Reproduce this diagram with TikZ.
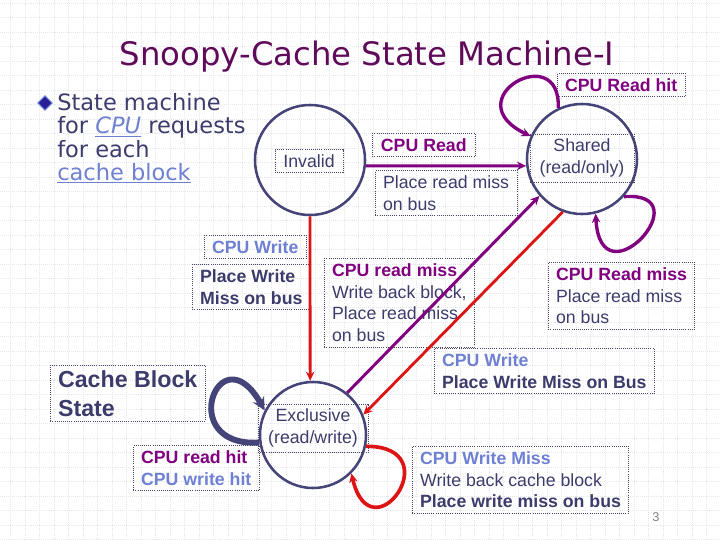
\documentclass[tikz,border=0pt]{standalone}
\usepackage{fontspec}
\setmainfont{Liberation Sans}
\newfontfamily\handfont{DejaVu Sans}
\usepackage{xcolor}
\usepackage{tikz}
\usetikzlibrary{arrows.meta,shapes.geometric}

\definecolor{titlepurple}{RGB}{96,10,90}
\definecolor{darktext}{RGB}{60,60,108}
\definecolor{circnavy}{RGB}{68,68,120}
\definecolor{cpurple}{RGB}{128,0,128}
\definecolor{cred}{RGB}{220,20,20}
\definecolor{lightblue}{RGB}{110,128,210}
\definecolor{boxgray}{RGB}{70,70,100}
\definecolor{gridc}{RGB}{230,230,238}

\newcommand\lblsize{\fontsize{12.6}{15.6}\selectfont}

\tikzset{
  state/.style={circle, draw=circnavy, line width=1.8pt, minimum size=2.75cm, inner sep=0pt},
  lbl/.style={draw=boxgray, densely dotted, line width=0.5pt, text=darktext,
    font=\lblsize, align=left, inner xsep=5.5pt, inner ysep=3.5pt},
  purpleline/.style={draw=cpurple, line width=2.1pt},
  redline/.style={draw=cred, line width=2pt},
  purpleloop/.style={draw=cpurple, line width=2.4pt},
  redloop/.style={draw=cred, line width=2.6pt},
  navyloop/.style={draw=circnavy, line width=4.2pt},
  gridline/.style={draw=gridc, densely dotted, line width=0.4pt},
}

\begin{document}
\begin{tikzpicture}[x=0.025cm, y=-0.025cm, >={Stealth[length=6.5pt,width=6pt]}]
    \useasboundingbox (0,0) rectangle (720,540);
    % background grid
    \foreach \g in {0,...,49} \draw[gridline] (10.5+14.5*\g,0) -- (10.5+14.5*\g,540);
    \foreach \g in {0,...,37} \draw[gridline] (0,3+14.5*\g) -- (720,3+14.5*\g);

    % title and bullet
    \node[text=titlepurple, font=\handfont\fontsize{23}{28}\selectfont] (ttl) at (367,57) {Snoopy-Cache State Machine-I};
    \node[diamond, fill={rgb,255:red,40;green,30;blue,150}, draw=lightblue, line width=0.7pt,
      minimum size=10.5pt, inner sep=0pt] (blt) at (45,103) {};
    \node[anchor=north west, align=left, text=darktext, inner sep=0pt,
      font=\handfont\fontsize{16}{16.6}\selectfont] (intro) at (57,93)
      {State machine\\for \textcolor{lightblue}{\underline{\textit{CPU}}} requests\\for each\\\textcolor{lightblue}{\underline{cache block}}};

    % states
    \node[state] (inv) at (310,160) {};
    \node[state] (sh) at (582,159) {};
    \node[state, minimum size=2.65cm] (exc) at (313,435) {};
    \node[lbl, minimum width=1.7cm] (invlbl) at (309,161) {Invalid};
    \node[lbl, align=center, minimum width=2.6cm] (shlbl) at (582,158) {Shared\\(read/only)};
    \node[lbl, align=center, minimum width=2.75cm] (exclbl) at (313,428) {Exclusive\\(read/write)};

    % transition labels
    \node[lbl, anchor=north west] (rhlbl) at (557,73) {\textcolor{cpurple}{\bfseries CPU Read hit}};
    \node[lbl, anchor=north west, minimum width=2.57cm] (rdlbl) at (372,133) {\textcolor{cpurple}{\bfseries CPU Read}};
    \node[lbl, anchor=north west] (rdact) at (375,170) {Place read miss\\on bus};
    \node[lbl, anchor=north west] (wrlbl) at (204,235) {\textcolor{lightblue}{\bfseries CPU Write}};
    \node[lbl, anchor=north west, font=\lblsize\bfseries] (wract) at (192,264) {Place Write\\Miss on bus};
    \node[lbl, anchor=north west] (rmlbl) at (324,258) {\textcolor{cpurple}{\bfseries CPU read miss}\\Write back block,\\Place read miss\\on bus};
    \node[lbl, anchor=north west] (shrm) at (548,262) {\textcolor{cpurple}{\bfseries CPU Read miss}\\Place read miss\\on bus};
    \node[lbl, anchor=north west] (shwr) at (434,348) {\textcolor{lightblue}{\bfseries CPU Write}\\\textbf{Place Write Miss on Bus}};
    \node[lbl, anchor=north west, font=\fontsize{16.5}{20.6}\selectfont\bfseries] (cbs) at (50,365) {Cache Block\\State};
    \node[lbl, anchor=north west] (hitlbl) at (133,445) {\textcolor{cpurple}{\bfseries CPU read hit}\\\textcolor{lightblue}{\bfseries CPU write hit}};
    \node[lbl, anchor=north west] (wmlbl) at (412,446) {\textcolor{lightblue}{\bfseries CPU Write Miss}\\Write back cache block\\\textbf{Place write miss on bus}};
    \node[text=gray, font=\fontsize{9}{10}\selectfont] (pg) at (656,517) {3};

    % transitions
    \draw[purpleline, ->] (inv.-6) -- (sh.187);
    \draw[redline, ->] (inv.270) -- (exc.93);
    \draw[purpleline, ->] (exc.51) -- (sh.221);
    \draw[redline, ->] (sh.250) -- (exc.22);

    % loops
    \draw[purpleloop, ->] (sh.115) .. controls +(3,-69) and +(-77,-37) .. (sh.156);
    \draw[purpleloop, ->] (sh.-42) .. controls +(80,-6) and +(5,92) .. (sh.-76);
    \draw[navyloop, ->, >={Stealth[length=9pt,width=9pt]}] (exc.188) .. controls +(-85,5) and +(-45,-80) .. (exc.153);
    \draw[redloop, ->] (exc.-12) .. controls +(85,0) and +(20,85) .. (exc.-45);
\end{tikzpicture}
\end{document}
